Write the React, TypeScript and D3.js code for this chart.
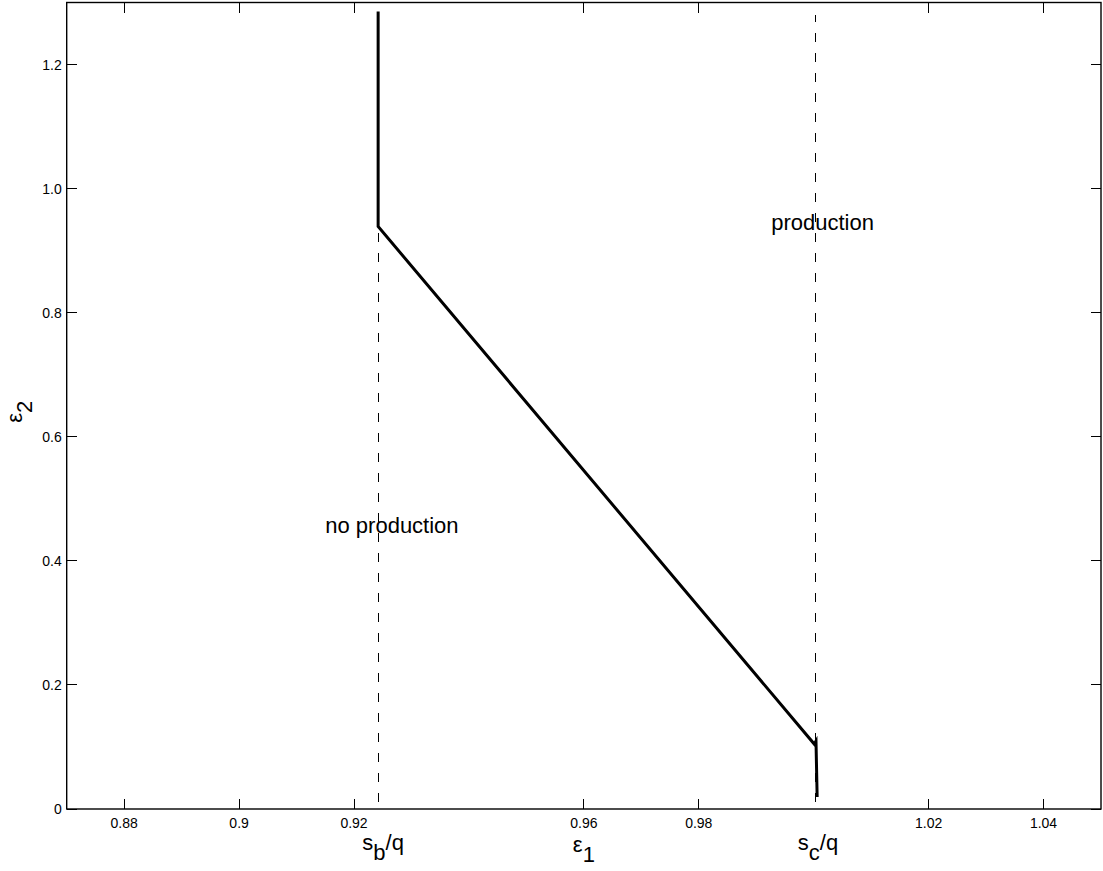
import { useMemo } from 'react'
import * as d3 from 'd3'

// axis ticks
const xTicks = [0.88, 0.9, 0.92, 0.96, 0.98, 1.02, 1.04]
const xTickLabels = ['0.88', '0.9', '0.92', '0.96', '0.98', '1.02', '1.04']
const yTicks = [0, 0.2, 0.4, 0.6, 0.8, 1.0, 1.2]
const yTickLabels = ['0', '0.2', '0.4', '0.6', '0.8', '1.0', '1.2']

// critical thresholds on the e1 axis
const sbq = 0.9242
const scq = 1.0004
const guideE2 = [0.012, 1.28]

// production boundary (solid line)
const boundaryE1 = [0.9242, 0.9242, 1.0001, 1.0004, 1.0006]
const boundaryE2 = [1.2855, 0.939, 0.1047, 0.1095, 0.0193]

// region labels
const regionText = ['no production', 'production']
const regionE1 = [0.915, 0.9926]
const regionE2 = [0.445, 0.934]

const W = 1103
const H = 871
const plot = { left: 66.7, right: 1101, top: 2.5, bottom: 809 }
const font = '"Liberation Sans", Arial, Helvetica, sans-serif'

export default function App() {
  const x = useMemo(() => d3.scaleLinear().domain([0.87, 1.05]).range([plot.left, plot.right]), [])
  const y = useMemo(() => d3.scaleLinear().domain([0, 1.3]).range([plot.bottom, plot.top]), [])

  const boundary = d3.line<number>()
    .x((_, i) => x(boundaryE1[i]))
    .y(d => y(d))(boundaryE2) ?? ''

  const tickLen = 10

  return (
    <svg width={W} height={H} style={{ position: 'absolute', left: 0, top: 0, display: 'block', background: '#fff' }}
      fontFamily={font}>
      {/* dashed thresholds */}
      {[sbq, scq].map((v, i) => (
        <line key={'g' + i} x1={x(v)} x2={x(v)} y1={y(guideE2[0])} y2={y(guideE2[1])}
          stroke="#000" strokeWidth={1} strokeDasharray="9,11" shapeRendering="crispEdges" />
      ))}

      {/* boundary */}
      <path d={boundary} fill="none" stroke="#000" strokeWidth={3} strokeLinejoin="miter" />

      {/* region labels */}
      {regionText.map((t, i) => (
        <text key={t} x={x(regionE1[i])} y={y(regionE2[i])} fontSize={22} fill="#000">{t}</text>
      ))}

      {/* frame */}
      <rect x={plot.left} y={plot.top} width={plot.right - plot.left} height={plot.bottom - plot.top}
        fill="none" stroke="#000" strokeWidth={1.4} />

      {/* x ticks bottom + top */}
      {xTicks.map((v, i) => (
        <g key={'x' + v}>
          <line x1={x(v)} x2={x(v)} y1={plot.bottom} y2={plot.bottom - tickLen} stroke="#000" strokeWidth={1}
            shapeRendering="crispEdges" />
          <line x1={x(v)} x2={x(v)} y1={plot.top} y2={plot.top + tickLen} stroke="#000" strokeWidth={1}
            shapeRendering="crispEdges" />
          <text x={x(v)} y={plot.bottom + 19} fontSize={14} textAnchor="middle" fill="#000">{xTickLabels[i]}</text>
        </g>
      ))}

      {/* y ticks left + right */}
      {yTicks.map((v, i) => (
        <g key={'y' + v}>
          <line x1={plot.left} x2={plot.left + tickLen} y1={y(v)} y2={y(v)} stroke="#000" strokeWidth={1}
            shapeRendering="crispEdges" />
          <line x1={plot.right} x2={plot.right - tickLen} y1={y(v)} y2={y(v)} stroke="#000" strokeWidth={1}
            shapeRendering="crispEdges" />
          <text x={plot.left - 5} y={y(v) + 5} fontSize={14} textAnchor="end" fill="#000">{yTickLabels[i]}</text>
        </g>
      ))}

      {/* threshold labels */}
      <text x={x(sbq) + 5} y={plot.bottom + 41} fontSize={22} textAnchor="middle" fill="#000">
        s<tspan dy={10}>b</tspan><tspan dy={-10}>/q</tspan>
      </text>
      <text x={x(scq) + 2} y={plot.bottom + 41} fontSize={22} textAnchor="middle" fill="#000">
        s<tspan dy={10}>c</tspan><tspan dy={-10}>/q</tspan>
      </text>

      {/* axis labels */}
      <text x={(plot.left + plot.right) / 2} y={plot.bottom + 43} fontSize={22} textAnchor="middle" fill="#000">
        ε<tspan dy={10}>1</tspan>
      </text>
      <text transform={`translate(22,${(plot.top + plot.bottom) / 2 + 6}) rotate(-90)`} fontSize={22}
        textAnchor="middle" fill="#000">
        ε<tspan dy={10}>2</tspan>
      </text>
    </svg>
  )
}
